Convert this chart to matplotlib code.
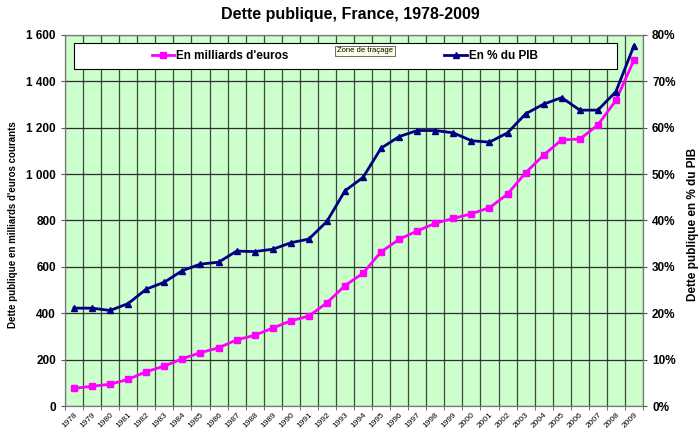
import matplotlib
matplotlib.use("Agg")
import matplotlib.pyplot as plt
from matplotlib.patches import Rectangle
from matplotlib.ticker import FuncFormatter, MultipleLocator

plt.rcParams["font.family"] = ["Liberation Sans", "DejaVu Sans"]

years = list(range(1978, 2010))
# dette en milliards d'euros courants
dette_md = [76, 85, 94, 115, 148, 172, 204, 230, 251, 285, 305, 336,
            367, 388, 445, 519, 573, 665, 719, 755, 788, 809,
            829, 855, 914, 1006, 1082, 1148, 1151, 1212, 1318, 1492]
# dette en % du PIB
dette_pib = [21.1, 21.1, 20.6, 22.1, 25.2, 26.7, 29.2, 30.6, 31.0, 33.4, 33.3, 33.8,
             35.2, 36.0, 39.8, 46.4, 49.3, 55.6, 58.1, 59.4, 59.4, 58.9,
             57.2, 56.9, 58.9, 63.0, 65.1, 66.5, 63.8, 63.8, 67.8, 77.7]

W, H = 700, 436
fig = plt.figure(figsize=(7, 4.36), dpi=100)
ax = fig.add_axes([65 / W, 1 - 406 / H, (643 - 65) / W, (406 - 35) / H])
ax.set_facecolor("#CCFFCC")

x = list(range(len(years)))

############################ axe gauche : milliards ############################
ax.plot(x, dette_md, color="#FF00FF", lw=2, marker="s", ms=3.8,
        label="En milliards d'euros", zorder=3)
ax.set_ylim(0, 1600)
ax.yaxis.set_major_locator(MultipleLocator(200))
ax.yaxis.set_major_formatter(FuncFormatter(lambda v, p: f"{int(v):,}".replace(",", " ")))
ax.set_xlim(-0.5, len(years) - 0.5)
ax.set_xticks(x)
ax.set_xticklabels([str(y) for y in years], rotation=45, ha="right",
                   rotation_mode="anchor", fontsize=6)
ax.set_xticks([i - 0.5 for i in range(len(years) + 1)], minor=True)
ax.tick_params(axis="x", which="major", length=0, pad=4)
ax.tick_params(axis="x", which="minor", length=3, color="#555555")
ax.tick_params(axis="y", length=3, color="#555555", labelsize=8.5)
for lab in ax.get_yticklabels():
    lab.set_fontweight("bold")
ax.grid(axis="y", which="major", color="#2e2e2e", lw=0.9)
ax.grid(axis="x", which="minor", color="#3d4a3d", lw=0.9)
ax.set_axisbelow(True)
for s in ax.spines.values():
    s.set_color("#777777")
ax.set_ylabel("Dette publique en milliards d'euros courants", fontsize=7,
              fontweight="bold")
ax.yaxis.set_label_coords(-47 / (643 - 65), 0.49)

############################ axe droit : % du PIB ############################
ax2 = ax.twinx()
ax2.plot(x, dette_pib, color="#000080", lw=2, marker="^", ms=3.8,
         label="En % du PIB", zorder=3)
ax2.set_ylim(0, 80)
ax2.yaxis.set_major_locator(MultipleLocator(10))
ax2.yaxis.set_major_formatter(FuncFormatter(lambda v, p: f"{int(v)}%"))
ax2.tick_params(axis="y", length=3, color="#555555", labelsize=8.5)
for lab in ax2.get_yticklabels():
    lab.set_fontweight("bold")
for s in ax2.spines.values():
    s.set_color("#777777")
ax2.set_ylabel("Dette publique en % du PIB", fontsize=8.5, fontweight="bold")
ax2.yaxis.set_label_coords(1 + 44 / (643 - 65), 0.49)

############################ titre, legende ############################
fig.text(0.5, 1 - 15 / H, "Dette publique, France, 1978-2009",
         ha="center", va="center", fontsize=11.5, fontweight="bold")

fig.add_artist(Rectangle((74 / W, 1 - 69 / H), (617 - 74) / W, 26 / H,
                         transform=fig.transFigure, facecolor="white",
                         edgecolor="black", lw=0.8, zorder=4))
h1, l1 = ax.get_legend_handles_labels()
h2, l2 = ax2.get_legend_handles_labels()
fig.legend(h1 + h2, l1 + l2, loc="center left",
           bbox_to_anchor=(152 / W, 1 - 56 / H), ncol=2, frameon=False,
           prop={"weight": "bold", "size": 8.5}, handlelength=1.9,
           handletextpad=0.15, columnspacing=13.2, borderpad=0,
           borderaxespad=0).set_zorder(5)

# bulle d'aide d'Excel visible sur la capture
fig.text(337 / W, 1 - 51 / H, "Zone de traçage", fontsize=5.5, ha="left",
         va="center", zorder=6,
         bbox=dict(boxstyle="square,pad=0.25", facecolor="#FFFFE1",
                   edgecolor="#333333", lw=0.5))

fig.savefig("out.png", dpi=100)
